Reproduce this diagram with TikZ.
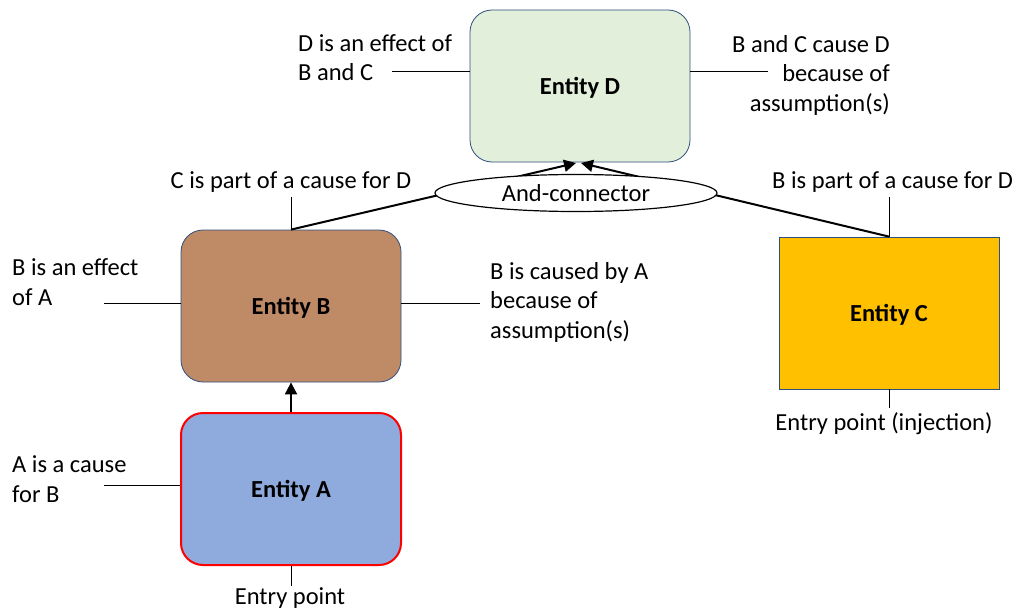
\documentclass[tikz,border=0pt]{standalone}
\usepackage{fontspec}
\setmainfont{Carlito}
\usetikzlibrary{arrows.meta,shapes.geometric}
\definecolor{dgreen}{HTML}{E2EFDA}
\definecolor{dbrown}{HTML}{BF8A66}
\definecolor{dblue}{HTML}{8FAADC}
\definecolor{dgold}{HTML}{FFC000}
\definecolor{edge}{HTML}{2F4F7F}
\begin{document}
\begin{tikzpicture}[x=1pt,y=-1pt,
  font=\fontsize{24.5}{29.5}\selectfont,
  entity/.style={draw=edge, line width=0.8pt, minimum width=220pt, minimum height=152pt,
    rounded corners=22pt, text depth=0pt, font=\fontsize{24.5}{29.5}\selectfont\bfseries},
  label/.style={inner sep=0pt, align=left},
  tick/.style={line width=0.8pt},
  cause/.style={line width=2pt, -{Triangle[length=12pt,width=12pt]}}]
\useasboundingbox (0,0) rectangle (1014,610);

% entities
\node[entity, fill=dgreen] (D) at (580,86) {Entity D};
\node[entity, fill=dbrown] (B) at (291,306) {Entity B};
\node[entity, fill=dblue, draw=red, line width=2pt] (A) at (291,489) {Entity A};
\node[entity, fill=dgold, rounded corners=0pt] (C) at (889,313) {Entity C};

% connectors into D, passing under the and-connector
\coordinate (DL) at (576,163);
\coordinate (DR) at (581,163);
\draw[cause] (B.north) -- (DL);
\draw[cause] (C.north) -- (DR);
\node[ellipse, draw, fill=white, line width=1.2pt, minimum width=282pt, minimum height=37pt, inner sep=0pt] (and) at (576,193) {And-connector};
\draw[cause] (A.north) -- (B.south);

% annotations (anchored at the baseline of their last line)
\node[label, anchor=base west] (dl) at (298,81) {D is an effect of\\B and C};
\coordinate (dlx) at (392,71);
\draw[tick] (dlx) -- (dlx -| D.west);

\node[label, anchor=base east, align=right] (dr) at (890,111) {B and C cause D\\because of\\assumption(s)};
\coordinate (drx) at (768,71);
\draw[tick] (D.east |- drx) -- (drx);

\node[label, anchor=base] (cl) at (291,188) {C is part of a cause for D};
\coordinate (clx) at (291,197);
\draw[tick] (clx) -- (B.north);

\node[label, anchor=base west] (bl) at (772,188) {B is part of a cause for D};
\coordinate (blx) at (889,197);
\draw[tick] (blx) -- (C.north);

\node[label, anchor=base west] (be) at (12,305) {B is an effect\\of A};
\coordinate (bex) at (104,303);
\draw[tick] (bex) -- (bex -| B.west);

\node[label, anchor=base west] (bc) at (490,338) {B is caused by A\\because of\\assumption(s)};
\coordinate (bcx) at (480,303);
\draw[tick] (B.east |- bcx) -- (bcx);

\node[label, anchor=base west] (ac) at (12,502) {A is a cause\\for B};
\coordinate (acx) at (104,485);
\draw[tick] (acx) -- (acx -| A.west);

\node[label, anchor=base] (ep) at (290,604) {Entry point};
\coordinate (epx) at (291,586);
\draw[tick] (A.south) -- (epx);

\node[label, anchor=base] (ei) at (884,430) {Entry point (injection)};
\coordinate (eix) at (889,408);
\draw[tick] (C.south) -- (eix);
\end{tikzpicture}
\end{document}
